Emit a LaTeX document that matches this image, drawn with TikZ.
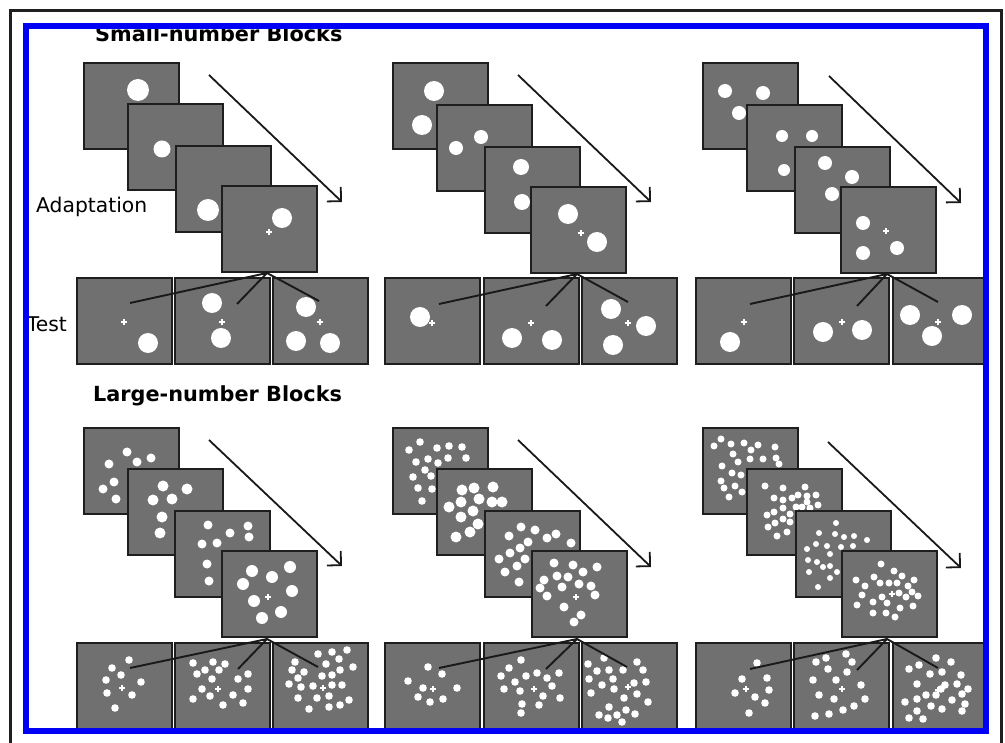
\documentclass[tikz,border=0pt]{standalone}
\usepackage{fontspec}
\setsansfont{DejaVu Sans}
\usetikzlibrary{arrows.meta}
\definecolor{panelgray}{RGB}{112,112,112}
\definecolor{edgec}{RGB}{30,30,30}
\definecolor{frameblue}{RGB}{0,0,245}
\newcommand\pnl[3]{\node[panel] (#1) at (#2,#3) {};}
\newcommand\pdots[2]{\foreach \px/\py in {#2} {\fill[white] (\px,\py) circle[radius=#1pt];}}
\newcommand\fixc[2]{\draw[white, line width=1.3pt] (#1-2.8,#2) -- (#1+2.8,#2) (#1,#2-2.8) -- (#1,#2+2.8);}
\tikzset{
  panel/.style={draw=edgec, line width=1.5pt, fill=panelgray, anchor=north west,
    minimum width=95pt, minimum height=86pt, inner sep=0pt, outer sep=0pt},
  seqarrow/.style={draw=black!90, line width=1.8pt, -{Straight Barb[length=10pt,width=20pt,line width=1.8pt]}},
  testline/.style={draw=black!90, line width=1.9pt},
  title/.style={font=\sffamily\bfseries\fontsize{20.8}{24}\selectfont, inner sep=0pt, anchor=base west},
  label/.style={font=\sffamily\fontsize{20.3}{24}\selectfont, inner sep=0pt}
}
\begin{document}
\begin{tikzpicture}[x=1pt,y=-1pt]
\useasboundingbox (0,0) rectangle (1005,743);
\fill[white] (0,0) rectangle (1005,743);
\begin{scope}
\clip (26,26) rectangle (986,731);
% titles and labels
\node[title] (tsmall) at (95,42) {Small-number Blocks};
\node[title] (tlarge) at (93,402) {Large-number Blocks};
\node[label, anchor=base west] (ladapt) at (36,213) {Adaptation};
\node[label, anchor=base east] (ltest) at (67,332) {Test};

% ================= SMALL, column 1
\pnl{s1a}{84}{63}   \pdots{11}{138/90}
\pnl{s1b}{128}{104} \pdots{8.5}{162/149}
\pnl{s1c}{176}{146} \pdots{11}{208/210}
\pnl{s1d}{222}{186} \pdots{10}{282/218} \fixc{269}{232}
\pnl{s1t1}{77}{278}  \pdots{10}{148/343} \fixc{124}{322}
\pnl{s1t2}{175}{278} \pdots{10}{212/303,221/338} \fixc{222}{322}
\pnl{s1t3}{273}{278} \pdots{10}{306/307,296/341,330/343} \fixc{320}{322}
% ================= SMALL, column 2
\pnl{s2a}{393}{63}   \pdots{10}{434/91,422/125}
\pnl{s2b}{437}{105}  \pdots{7}{456/148,481/137}
\pnl{s2c}{485}{147}  \pdots{8}{521/167,522/202}
\pnl{s2d}{531}{187}  \pdots{10}{568/214,597/242} \fixc{581}{233}
\pnl{s2t1}{385}{278} \pdots{10}{420/317} \fixc{432}{323}
\pnl{s2t2}{484}{278} \pdots{10}{512/338,552/340} \fixc{531}{323}
\pnl{s2t3}{582}{278} \pdots{10}{611/309,646/326,613/345} \fixc{628}{323}
% ================= SMALL, column 3
\pnl{s3a}{703}{63}   \pdots{7}{725/91,763/93,739/113}
\pnl{s3b}{747}{105}  \pdots{6}{782/136,812/136,784/170}
\pnl{s3c}{795}{147}  \pdots{7}{825/163,852/177,832/194}
\pnl{s3d}{841}{187}  \pdots{7}{863/223,863/253,897/248} \fixc{886}{231}
\pnl{s3t1}{696}{278} \pdots{10}{730/342} \fixc{744}{322}
\pnl{s3t2}{794}{278} \pdots{10}{823/332,862/330} \fixc{842}{322}
\pnl{s3t3}{893}{278} \pdots{10}{910/315,962/315,932/336} \fixc{938}{322}

% ================= LARGE, column 1
\pnl{l1a}{84}{428}  \pdots{4.5}{127/452,137/462,151/458,109/464,114/482,103/489,116/499}
\pnl{l1b}{128}{469} \pdots{5.5}{163/486,187/489,153/500,172/499,162/517,160/533}
\pnl{l1c}{175}{511} \pdots{4.5}{208/525,230/533,248/526,202/544,217/543,249/537,207/564,209/581}
\pnl{l1d}{222}{551} \pdots{6}{252/571,272/577,290/567,243/584,292/591,254/601,262/618,281/612} \fixc{268}{597}
\pnl{l1t1}{77}{643}  \pdots{3.8}{129/660,112/668,121/675,106/680,141/682,107/693,132/695,115/708} \fixc{122}{688}
\pnl{l1t2}{175}{643} \pdots{3.8}{193/663,213/662,225/664,197/674,205/670,219/670,212/679,238/679,248/674,202/689,210/696,248/689,193/699,233/695,223/705,243/703} \fixc{218}{689}
\pnl{l1t3}{273}{643} \pdots{3.8}{318/654,332/652,347/650,295/662,326/664,339/659,353/667,292/670,304/672,340/670,322/676,332/675,298/678,289/684,301/687,313/686,332/685,342/685,298/698,317/698,329/696,349/700,309/709,329/707,340/705} \fixc{323}{688}
% ================= LARGE, column 2
\pnl{l2a}{393}{428} \pdots{3.8}{420/442,409/450,437/448,449/446,462/447,416/462,428/459,438/463,448/458,466/458,425/470,431/476,413/477,418/488,432/489,422/501}
\pnl{l2b}{437}{469} \pdots{5.5}{462/490,474/488,493/487,461/502,479/499,492/502,502/502,449/507,473/511,461/517,478/524,470/532,456/537}
\pnl{l2c}{485}{511} \pdots{4.5}{521/527,535/530,509/536,547/538,556/534,571/543,528/542,520/548,510/553,525/559,499/559,517/566,505/572,519/582}
\pnl{l2d}{532}{551} \pdots{4.5}{554/563,573/565,597/567,557/576,568/577,583/572,544/580,562/587,579/584,591/586,540/588,547/596,595/595,564/607,581/615,574/622} \fixc{576}{597}
\pnl{l2t1}{385}{643} \pdots{3.8}{428/667,442/674,408/681,423/688,457/688,418/697,430/702,443/699} \fixc{433}{689}
\pnl{l2t2}{484}{643} \pdots{3.8}{521/660,509/668,501/676,537/673,526/676,515/682,547/678,559/673,504/689,520/691,552/686,543/696,560/698,522/704,539/705,521/713} \fixc{534}{689}
\pnl{l2t3}{582}{643} \pdots{3.8}{604/658,637/662,588/664,597/671,609/670,623/670,643/670,589/679,613/679,602/685,614/689,634/683,646/682,591/693,637/694,624/698,648/702,609/707,626/710,617/715,608/718,599/715,635/714,622/722} \fixc{628}{687}
% ================= LARGE, column 3
\pnl{l3a}{703}{428} \pdots{3.5}{721/439,714/446,731/444,744/443,758/445,751/450,775/447,733/454,750/459,763/459,776/458,779/464,738/462,722/466,732/473,741/475,721/481,724/488,735/486,742/492,729/497}
\pnl{l3b}{747}{469} \pdots{3.5}{765/486,783/488,805/487,774/498,783/500,792/498,798/495,807/496,816/495,783/508,774/512,767/515,790/514,796/507,802/507,810/508,818/505,807/502,783/519,790/522,775/523,768/527,787/532,777/536}
\pnl{l3c}{796}{511} \pdots{3}{836/523,819/533,835/534,844/537,854/536,867/540,816/544,827/546,841/547,853/546,807/549,830/554,808/560,817/562,823/567,830/566,837/572,809/572,830/578,818/587}
\pnl{l3d}{842}{551} \pdots{3.5}{881/564,894/571,902/576,856/580,874/577,880/583,889/583,897/583,914/580,865/586,908/586,862/595,873/602,882/597,899/593,906/597,912/592,918/596,857/605,887/603,900/608,913/606,873/613,886/613,895/617} \fixc{892}{594}
\pnl{l3t1}{696}{643} \pdots{3.8}{757/663,742/679,767/678,735/693,769/690,755/697,765/703,749/713} \fixc{746}{689}
\pnl{l3t2}{794}{643} \pdots{3.8}{816/662,826/658,846/654,852/662,828/669,847/672,813/680,836/680,861/685,819/695,834/699,865/699,854/706,843/710,829/714,815/716} \fixc{842}{689}
\pnl{l3t3}{893}{643} \pdots{3.8}{936/658,951/662,909/669,919/665,930/674,942/672,961/675,917/684,945/685,957/684,968/689,926/695,936/695,941/689,962/694,905/702,917/699,952/700,965/704,931/706,942/709,917/711,962/711,909/718,923/719} \fixc{938}{690}

% ================= sequence arrows
\coordinate (as1) at (209,75);  \coordinate (ae1) at (342,202);
\coordinate (as2) at (518,75);  \coordinate (ae2) at (651,202);
\coordinate (as3) at (829,76);  \coordinate (ae3) at (961,203);
\coordinate (as4) at (209,440); \coordinate (ae4) at (342,566);
\coordinate (as5) at (518,440); \coordinate (ae5) at (651,567);
\coordinate (as6) at (828,442); \coordinate (ae6) at (961,568);
\foreach \i in {1,...,6} {\draw[seqarrow] (as\i) -- (ae\i);}

% ================= test lines
\coordinate (ap1) at (267,273); \coordinate (p1a) at (130,303); \coordinate (p1b) at (237,304); \coordinate (p1c) at (319,301);
\coordinate (ap2) at (577,274); \coordinate (p2a) at (439,304); \coordinate (p2b) at (546,306); \coordinate (p2c) at (628,302);
\coordinate (ap3) at (887,274); \coordinate (p3a) at (750,304); \coordinate (p3b) at (857,306); \coordinate (p3c) at (938,302);
\coordinate (ap4) at (267,639); \coordinate (p4a) at (130,668); \coordinate (p4b) at (238,669); \coordinate (p4c) at (318,667);
\coordinate (ap5) at (577,639); \coordinate (p5a) at (439,668); \coordinate (p5b) at (546,669); \coordinate (p5c) at (627,667);
\coordinate (ap6) at (887,639); \coordinate (p6a) at (750,669); \coordinate (p6b) at (857,670); \coordinate (p6c) at (938,668);
\foreach \i in {1,...,6} {\draw[testline] (p\i a) -- (ap\i) -- (p\i c) (ap\i) -- (p\i b);}
\end{scope}
% frames
\draw[frameblue, line width=5.5pt] (26,26) rectangle (986,731);
\draw[black!88, line width=3pt] (10.5,743) -- (10.5,10.5) -- (1001,10.5) -- (1001,743);
\end{tikzpicture}
\end{document}
